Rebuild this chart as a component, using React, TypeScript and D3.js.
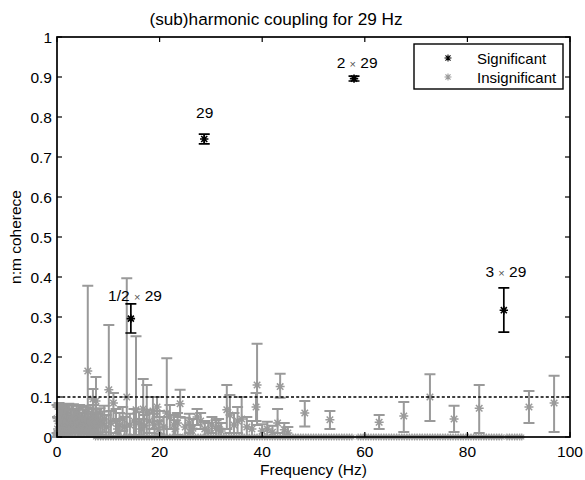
import React from 'react';
import * as d3 from 'd3';

// significant (sub)harmonics of 29 Hz
const sigHz = [14.4, 28.7, 57.9, 87.1];
const sigVal = [0.296, 0.745, 0.896, 0.317];
const sigLo = [0.26, 0.733, 0.89, 0.262];
const sigHi = [0.333, 0.757, 0.902, 0.373];
const sigLabel = ['1/2', '', '2', '3'];
const labelHz = [15.2, 28.8, 58.5, 87.5];
const labelY = [0.34, 0.7975, 0.9225, 0.4];

// insignificant: [Hz, value, lower, upper]
const insig: [number, number, number, number][] = [
  [0.0, 0.046, 0.01, 0.08], [0.2, 0.04, 0.005, 0.075], [0.4, 0.05, 0.015, 0.085],
  [0.6, 0.035, 0.0, 0.07], [0.8, 0.045, 0.01, 0.08], [1.0, 0.03, 0.0, 0.065],
  [1.2, 0.05, 0.02, 0.082], [1.4, 0.04, 0.005, 0.075], [1.6, 0.028, 0.0, 0.06],
  [1.8, 0.045, 0.012, 0.08], [2.0, 0.038, 0.004, 0.072], [2.3, 0.05, 0.018, 0.083],
  [2.6, 0.033, 0.0, 0.068], [2.9, 0.042, 0.008, 0.078], [3.2, 0.048, 0.015, 0.082],
  [3.5, 0.03, 0.0, 0.066], [3.8, 0.044, 0.01, 0.079], [4.1, 0.036, 0.002, 0.07],
  [4.4, 0.05, 0.02, 0.08], [4.7, 0.027, 0.0, 0.06], [5.0, 0.041, 0.008, 0.075],
  [5.3, 0.034, 0.0, 0.068], [5.6, 0.046, 0.014, 0.078], [5.9, 0.03, 0.0, 0.064],
  [6.2, 0.04, 0.006, 0.074], [6.5, 0.025, 0.0, 0.058], [6.8, 0.038, 0.004, 0.07],
  [7.1, 0.045, 0.012, 0.08], [7.4, 0.03, 0.0, 0.062], [7.7, 0.036, 0.002, 0.068],
  [8.0, 0.028, 0.0, 0.058], [8.4, 0.04, 0.006, 0.072], [8.8, 0.033, 0.0, 0.064],
  [9.2, 0.045, 0.012, 0.078], [9.6, 0.025, 0.0, 0.055],
  [0.1, 0.02, 0.0, 0.05], [0.5, 0.015, 0.0, 0.04], [0.9, 0.022, 0.0, 0.055],
  [1.3, 0.018, 0.0, 0.045], [1.7, 0.02, 0.0, 0.05], [2.1, 0.016, 0.0, 0.042],
  [2.5, 0.022, 0.0, 0.052], [3.0, 0.018, 0.0, 0.046], [3.4, 0.02, 0.0, 0.05],
  [4.0, 0.015, 0.0, 0.04], [4.5, 0.02, 0.0, 0.048], [5.1, 0.018, 0.0, 0.045],
  [5.7, 0.016, 0.0, 0.042], [6.4, 0.02, 0.0, 0.048], [7.0, 0.016, 0.0, 0.04],
  [6.0, 0.165, 0.0, 0.378], [7.6, 0.09, 0.03, 0.15], [7.0, 0.095, 0.05, 0.12],
  [10.1, 0.118, 0.0, 0.28], [11.0, 0.085, 0.04, 0.11], [13.6, 0.1, 0.0, 0.397],
  [15.4, 0.068, 0.0, 0.252], [16.8, 0.07, 0.0, 0.145], [17.5, 0.06, 0.0, 0.13],
  [18.7, 0.065, 0.02, 0.1], [19.5, 0.075, 0.05, 0.1], [21.4, 0.06, 0.0, 0.197],
  [24.0, 0.083, 0.05, 0.118],
  [10.5, 0.035, 0.0, 0.065], [11.5, 0.04, 0.01, 0.07], [12.2, 0.03, 0.0, 0.06],
  [12.8, 0.045, 0.015, 0.075], [14.2, 0.03, 0.0, 0.058], [15.0, 0.04, 0.005, 0.07],
  [16.0, 0.035, 0.0, 0.062], [17.0, 0.028, 0.0, 0.055], [18.0, 0.04, 0.01, 0.068],
  [19.0, 0.03, 0.0, 0.058], [20.0, 0.038, 0.008, 0.065], [20.8, 0.025, 0.0, 0.05],
  [22.0, 0.05, 0.02, 0.08], [22.8, 0.03, 0.0, 0.055], [23.5, 0.035, 0.005, 0.06],
  [25.0, 0.025, 0.0, 0.048], [25.8, 0.035, 0.01, 0.058], [26.5, 0.022, 0.0, 0.045],
  [27.3, 0.05, 0.03, 0.07], [28.0, 0.04, 0.02, 0.06], [28.8, 0.02, 0.0, 0.04],
  [30.2, 0.03, 0.01, 0.05], [31.0, 0.022, 0.0, 0.042], [32.0, 0.015, 0.0, 0.035],
  [33.1, 0.068, 0.02, 0.13], [33.7, 0.055, 0.01, 0.105], [34.5, 0.03, 0.0, 0.06],
  [35.2, 0.04, 0.01, 0.075], [36.0, 0.045, 0.0, 0.1], [37.0, 0.025, 0.0, 0.05],
  [38.0, 0.02, 0.0, 0.04], [39.0, 0.13, 0.03, 0.233], [38.8, 0.075, 0.04, 0.11],
  [40.0, 0.015, 0.0, 0.032], [41.0, 0.02, 0.0, 0.038], [42.0, 0.012, 0.0, 0.028],
  [43.0, 0.035, 0.01, 0.07], [43.5, 0.126, 0.098, 0.158], [44.3, 0.018, 0.0, 0.035],
  [45.0, 0.01, 0.0, 0.025], [11.8, 0.02, 0.0, 0.045], [13.2, 0.025, 0.0, 0.05],
  [16.4, 0.02, 0.0, 0.045], [19.8, 0.018, 0.0, 0.04], [23.0, 0.02, 0.0, 0.042],
  [26.0, 0.012, 0.0, 0.03], [29.5, 0.015, 0.0, 0.035], [31.5, 0.025, 0.0, 0.045],
  [48.3, 0.06, 0.026, 0.09], [53.2, 0.043, 0.02, 0.065], [62.8, 0.037, 0.02, 0.055],
  [67.6, 0.0525, 0.0125, 0.0875], [72.7, 0.1, 0.04, 0.157], [77.4, 0.045, 0.0125, 0.078],
  [82.3, 0.072, 0.01, 0.13], [92.0, 0.075, 0.035, 0.115], [96.9, 0.085, 0.0125, 0.153],
];

// frequencies with zero coherence
const zeroHz = [
  7.5, 8, 8.5, 9, 9.5, 10, 10.5, 11, 11.5, 12, 12.5, 13, 13.5, 14, 14.5, 15, 15.5, 16, 16.5, 17,
  17.5, 18, 18.5, 19, 19.5, 20, 20.5, 21, 21.5, 22, 22.5, 23, 23.5, 24, 24.5, 25, 25.5, 26, 26.5,
  27, 27.5, 28, 28.5, 29, 29.5, 30, 30.5, 31, 31.5, 32, 32.5, 33, 33.5, 34, 34.5, 35, 35.5, 36,
  36.5, 37, 37.5, 38, 38.5, 39, 39.5, 40, 40.5, 41, 41.5, 42, 42.5, 43, 43.5, 44, 44.5, 45, 45.5,
  46, 46.5, 47, 47.5, 48, 48.5, 49, 49.5, 50, 50.5, 51, 51.5, 52, 52.5, 53, 53.5, 54, 54.5, 55,
  55.5, 56, 56.5, 57, 57.5,
  58.7, 59.2, 59.7, 60.2, 60.7, 61.2, 61.7, 62.2, 62.7, 63.2, 63.7, 64.2, 64.7, 65.2, 65.7, 66.2,
  66.7, 67.2, 67.7, 68.2, 68.7, 69.2, 69.7, 70.2, 70.7, 71.2, 71.7, 72.2, 72.7, 73.2, 73.7, 74.2,
  74.7, 75.2, 75.7, 76.2, 76.7, 77.2, 77.7, 78.2, 78.7, 79.2, 79.7, 80.2, 80.7, 81.2, 81.7, 82.2,
  82.7, 83.2, 83.7, 84.2, 84.7, 85.2, 85.7, 86.2, 86.7,
  87.7, 88.2, 88.7, 89.2, 89.7, 90.2, 90.6,
];

const xTicks = [0, 20, 40, 60, 80, 100];
const yTicks = [0, 0.1, 0.2, 0.3, 0.4, 0.5, 0.6, 0.7, 0.8, 0.9, 1];
const threshold = 0.1;

const width = 585;
const height = 480;
const margin = { top: 37, right: 15, bottom: 43, left: 57 };

const x = d3.scaleLinear().domain([0, 100]).range([margin.left, width - margin.right]);
const y = d3.scaleLinear().domain([0, 1]).range([height - margin.bottom, margin.top]);

const gray = '#9a9a9a';
const font = '"Liberation Sans", Arial, Helvetica, sans-serif';

const star = (cx: number, cy: number, r: number) => {
  const d = r * 0.72;
  return `M${cx - r},${cy}H${cx + r}M${cx},${cy - r}V${cy + r}` +
    `M${cx - d},${cy - d}L${cx + d},${cy + d}M${cx - d},${cy + d}L${cx + d},${cy - d}`;
};

const errBar = (hz: number, lo: number, hi: number, cap: number) => {
  const cx = x(hz);
  return `M${cx},${y(lo)}V${y(hi)}M${cx - cap},${y(lo)}H${cx + cap}M${cx - cap},${y(hi)}H${cx + cap}`;
};

export default function App() {
  const x0 = x.range()[0], x1 = x.range()[1];
  const y0 = y.range()[0], y1 = y.range()[1];
  return (
    <svg width={width} height={height} style={{ position: 'absolute', left: 0, top: 0, background: '#fff' }}
      fontFamily={font}>
      <rect x={0} y={0} width={width} height={height} fill="#fff" />
      {/* insignificant error bars */}
      <g stroke={gray} strokeWidth={2} fill="none">
        {insig.map((d, i) => <path key={'eb' + i} d={errBar(d[0], d[2], d[3], 5.5)} />)}
        {insig.map((d, i) => <path key={'st' + i} d={star(x(d[0]), y(d[1]), 4.5)} strokeWidth={1.5} />)}
        {zeroHz.map((h, i) => <path key={'z' + i} d={star(x(h), y(0), 3.4)} strokeWidth={1.2} />)}
      </g>
      {/* threshold */}
      <line x1={x0} x2={x1} y1={y(threshold)} y2={y(threshold)} stroke="#000" strokeWidth={1.7} strokeDasharray="3,2.2" />
      {/* significant */}
      <g stroke="#000" fill="none">
        {sigHz.map((h, i) => <path key={'seb' + i} d={errBar(h, sigLo[i], sigHi[i], 5.5)} strokeWidth={1.7} />)}
        {sigHz.map((h, i) => <path key={'sst' + i} d={star(x(h), y(sigVal[i]), 4.2)} strokeWidth={1.6} />)}
      </g>
      <g fontSize={15.5} textAnchor="middle" fill="#000">
        {sigHz.map((h, i) => (
          <text key={'lab' + i} x={x(labelHz[i])} y={y(labelY[i])}>
            {sigLabel[i] !== '' && <tspan>{sigLabel[i]} </tspan>}
            {sigLabel[i] !== '' && <tspan fontSize={11} fill="#555">×</tspan>}
            {sigLabel[i] !== '' && <tspan> </tspan>}
            <tspan>29</tspan>
          </text>
        ))}
      </g>
      {/* axes box */}
      <rect x={x0} y={y1} width={x1 - x0} height={y0 - y1} fill="none" stroke="#000" strokeWidth={1.7} />
      <g stroke="#000" strokeWidth={1.2}>
        {xTicks.map(t => (
          <g key={'xt' + t}>
            <line x1={x(t)} x2={x(t)} y1={y0} y2={y0 - 5} />
            <line x1={x(t)} x2={x(t)} y1={y1} y2={y1 + 5} />
          </g>
        ))}
        {yTicks.map(t => (
          <g key={'yt' + t}>
            <line x1={x0} x2={x0 + 5} y1={y(t)} y2={y(t)} />
            <line x1={x1} x2={x1 - 5} y1={y(t)} y2={y(t)} />
          </g>
        ))}
      </g>
      <g fontSize={15.5} fill="#000">
        {xTicks.map(t => (
          <text key={'xl' + t} x={x(t)} y={y0 + 20} textAnchor="middle">{t}</text>
        ))}
        {yTicks.map(t => (
          <text key={'yl' + t} x={x0 - 5} y={y(t) + 5.5} textAnchor="end">{d3.format('~g')(t)}</text>
        ))}
      </g>
      <text x={(x0 + x1) / 2} y={475} textAnchor="middle" fontSize={15.5}>Frequency (Hz)</text>
      <text transform={`translate(21,${(y0 + y1) / 2}) rotate(-90)`} textAnchor="middle" fontSize={15.5}>n:m coherece</text>
      <text x={276} y={25} textAnchor="middle" fontSize={17.2}>(sub)harmonic coupling for 29 Hz</text>
      {/* legend */}
      <rect x={414} y={44} width={149} height={45} fill="#fff" stroke="#000" strokeWidth={1.4} />
      <path d={star(448, 58, 3.5)} stroke="#000" strokeWidth={1.1} fill="none" />
      <path d={star(448, 77, 3.5)} stroke={gray} strokeWidth={1.1} fill="none" />
      <text x={477} y={63.5} fontSize={15}>Significant</text>
      <text x={477} y={82.5} fontSize={15}>Insignificant</text>
    </svg>
  );
}
